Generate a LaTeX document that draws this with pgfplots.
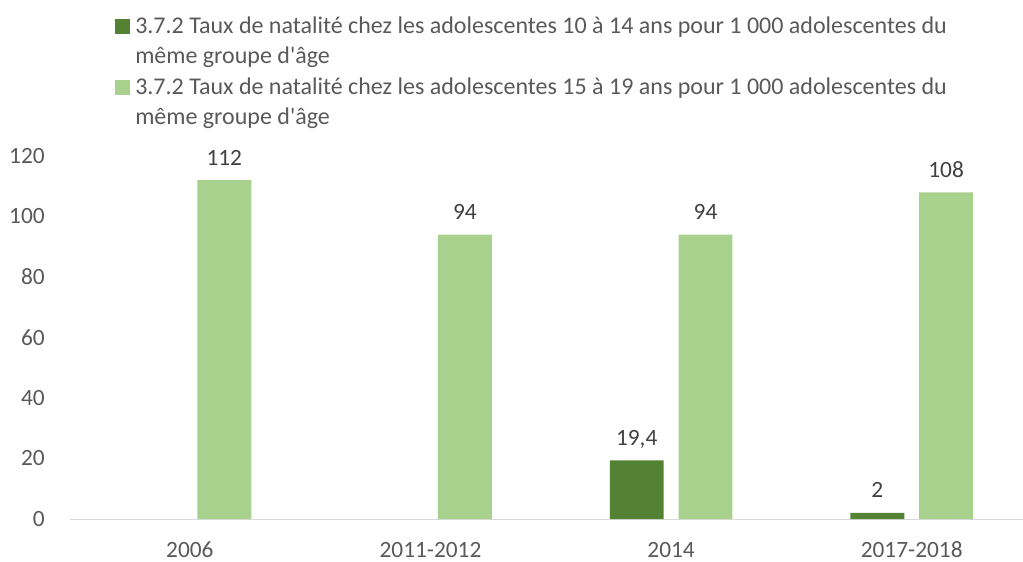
\documentclass[border=0pt]{standalone}
\usepackage{pgfplots}
\pgfplotsset{compat=1.18}
\usepackage{fontspec}
\setmainfont{Carlito}
\newfontfamily\nolig{Carlito}
\definecolor{darkg}{HTML}{548235}
\definecolor{lightg}{HTML}{A9D18E}
\definecolor{txt}{HTML}{595959}
\definecolor{lbl}{HTML}{404040}
\definecolor{basel}{HTML}{D9D9D9}
\begin{document}
\begin{tikzpicture}
\begin{axis}[
  at={(0,0)}, anchor=south west,
  scale only axis, width=715.05pt, height=272.25pt,
  xmin=-0.5, xmax=3.4626, ymin=0, ymax=120,
  ytick={0,20,...,120},
  xtick={0,1,2,3}, xticklabels={2006,2011-2012,2014,2017-2018},
  axis x line*=bottom, axis y line*=left,
  x axis line style={-, draw=basel, line width=0.75pt},
  y axis line style={draw=none},
  major tick length=0pt, tick style={draw=none},
  /pgf/number format/assume math mode=true,
  ticklabel style={font=\fontsize{17.5}{20}\selectfont, text=txt, inner sep=0pt},
  yticklabel style={anchor=east, xshift=-18.5pt},
  xticklabel style={anchor=base, yshift=-28.5pt},
  ybar, bar width=0.224,
  nodes near coords={\pgfmathprintnumber[use comma,fixed,precision=1]{\pgfplotspointmeta}},
  nodes near coords style={font=\fontsize{17.5}{20}\selectfont, text=lbl, anchor=base, inner sep=0pt, yshift=11.25pt},
  clip=false,
  legend image code/.code={\path[#1,draw=none] (0pt,22.25pt) rectangle (11pt,33.25pt);},
  legend style={at={(axis description cs:0.0476,1.391)}, anchor=north west, draw=none, fill=none, inner sep=0pt,
    font=\fontsize{18}{22.5}\selectfont, text=txt, row sep=5pt, column sep=2pt,
    cells={anchor=base west, align=left, inner sep=2.5pt}},
]
\addplot[fill=darkg, draw=none, bar shift=-0.143] coordinates {(2,19.4) (3,2)};
\addlegendentry{3.7.2 Taux de natalité chez les adolescentes 10 à 14 ans pour 1 000 adolescentes du\\même groupe d{\nolig'}âge}
\addplot[fill=lightg, draw=none, bar shift=0.143] coordinates {(0,112) (1,94) (2,94) (3,108)};
\addlegendentry{3.7.2 Taux de natalité chez les adolescentes 15 à 19 ans pour 1 000 adolescentes du\\même groupe d{\nolig'}âge}
\end{axis}
\pgfresetboundingbox
\path (-52.2pt,-31.5pt) rectangle (715.05pt,389.25pt);
\end{tikzpicture}
\end{document}
